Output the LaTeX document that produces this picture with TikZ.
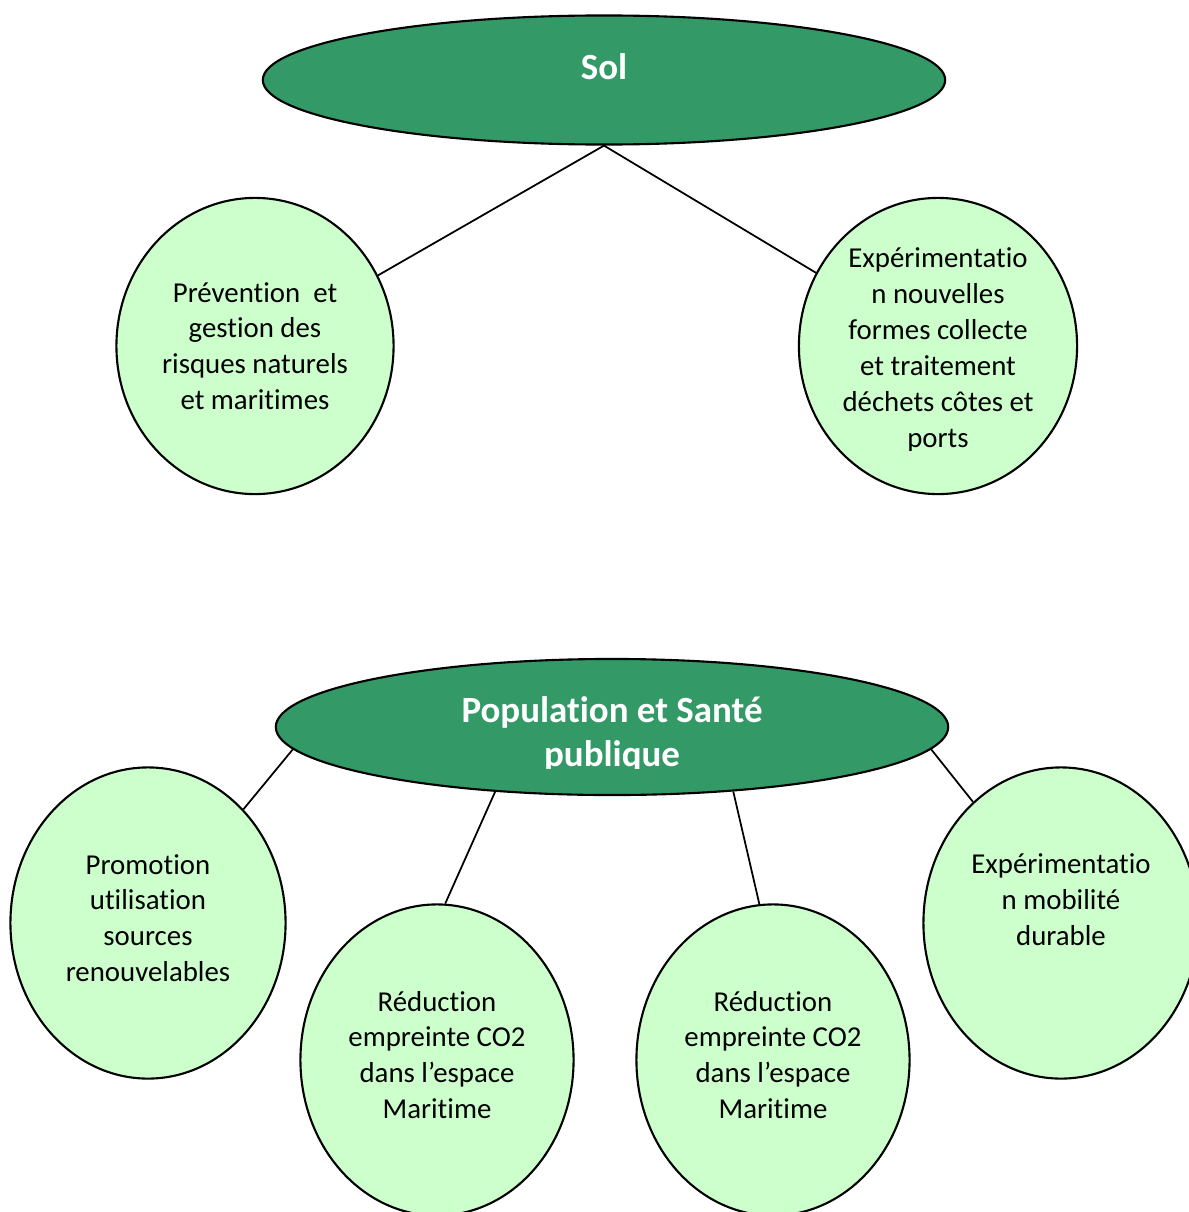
\documentclass[tikz,border=0pt]{standalone}
\usepackage{fontspec}
\setmainfont[Ligatures=NoCommon]{Carlito}
\usetikzlibrary{shapes.geometric}
\definecolor{themegreen}{RGB}{51,153,102}
\definecolor{bubblegreen}{RGB}{204,255,204}
\tikzset{
  theme/.style={ellipse,draw=black,line width=0.6pt,fill=themegreen,inner sep=0pt},
  bubble/.style={ellipse,draw=black,line width=0.6pt,fill=bubblegreen,inner sep=0pt},
  bubbletext/.style={align=center,inner sep=0pt,font=\fontsize{8.2}{10.2}\selectfont},
  themetext/.style={align=center,inner sep=0pt,text=white,font=\bfseries\fontsize{10.5}{12.5}\selectfont},
  link/.style={line width=0.5pt}
}
\begin{document}
\begin{tikzpicture}[x=0.01cm,y=-0.01cm]
  \useasboundingbox (0,0) rectangle (1189,1212);
  \fill[white] (0,0) rectangle (1189,1212);
  \clip (0,0) rectangle (1189,1212);
  % Sol
  \node[theme,minimum width=6.82cm,minimum height=1.29cm] (sol) at (604,80) {};
  \node[bubble,minimum width=2.77cm,minimum height=2.96cm] (prev) at (255,346) {};
  \node[bubble,minimum width=2.78cm,minimum height=2.96cm] (dechets) at (938,346) {};
  \draw[link] (sol.south) -- (prev);
  \draw[link] (sol.south) -- (dechets);
  \node[themetext] (soltxt) at (604,67) {Sol};
  \node[bubbletext] (prevtxt) at (255,346)
    {Prévention~ et\\gestion des\\risques naturels\\et maritimes};
  \begin{scope}
    \clip (0,0) rectangle (1189,450);
    \node[bubbletext] (dechtxt) at (938,350)
      {Expérimentatio\\n nouvelles\\formes collecte\\et traitement\\déchets côtes et\\ports};
  \end{scope}
  % Population et Sante publique
  \node[theme,minimum width=6.72cm,minimum height=1.36cm] (pop) at (612,727) {};
  \node[bubble,minimum width=2.75cm,minimum height=3.11cm] (promo) at (148,923) {};
  \node[bubble,minimum width=2.73cm,minimum height=3.11cm] (reduc1) at (437,1060) {};
  \node[bubble,minimum width=2.73cm,minimum height=3.11cm] (reduc2) at (773,1060) {};
  \node[bubble,minimum width=2.75cm,minimum height=3.11cm] (mobil) at (1061,923) {};
  \draw[link] (pop.184.6) -- (promo.50.4);
  \draw[link] (pop.209) -- (reduc1.87.4);
  \draw[link] (pop.332.35) -- (reduc2.95.9);
  \draw[link] (pop.356.5) -- (mobil.126.1);
  \begin{scope}
    \clip (0,0) rectangle (1189,768);
    \node[themetext] (poptxt) at (612,734) {Population et Santé\\publique};
  \end{scope}
  \node[bubbletext] (promotxt) at (148,918)
    {Promotion\\utilisation\\sources\\renouvelables};
  \node[bubbletext] (red1txt) at (437,1055)
    {Réduction\\empreinte CO2\\dans l’espace\\Maritime};
  \node[bubbletext] (red2txt) at (773,1055)
    {Réduction\\empreinte CO2\\dans l’espace\\Maritime};
  \node[bubbletext] (mobiltxt) at (1061,900)
    {Expérimentatio\\n mobilité\\durable};
\end{tikzpicture}
\end{document}
